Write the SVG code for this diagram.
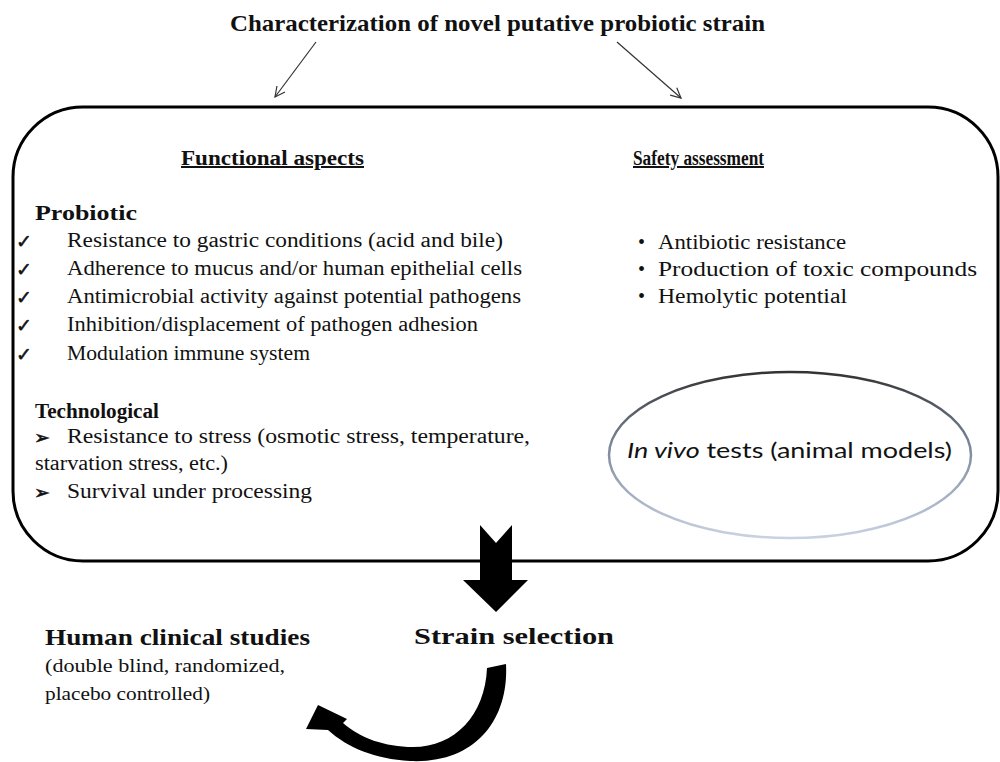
<svg xmlns="http://www.w3.org/2000/svg" width="1000" height="762" viewBox="0 0 1000 762">
<style>
.serif{font-family:"Liberation Serif","Times New Roman",Times,serif;fill:#111}
.b{font-weight:bold}
.item{font-size:20px}
.head{font-size:20px;font-weight:bold;text-decoration:underline}
.mark{font-family:"DejaVu Sans",sans-serif;font-size:19px;fill:#111;stroke:#111;stroke-width:0.5}
.thin{fill:none;stroke:#333;stroke-width:1.2}
</style>
<defs>
<marker id="open" viewBox="0 0 12 12" refX="11" refY="6" markerWidth="12" markerHeight="12" markerUnits="userSpaceOnUse" orient="auto">
<path d="M1 1 L11 6 L1 11" fill="none" stroke="#333" stroke-width="1.2"/>
</marker>
<linearGradient id="eg" x1="0" y1="0" x2="0" y2="1">
<stop offset="0" stop-color="#333"/>
<stop offset="0.45" stop-color="#7d889c"/>
<stop offset="1" stop-color="#c9d2e2"/>
</linearGradient>
</defs>
<rect width="1000" height="762" fill="#fff"/>

<g id="title">
<text class="serif b" x="230" y="31" font-size="23" textLength="535" lengthAdjust="spacingAndGlyphs">Characterization of novel putative probiotic strain</text>
</g>

<g id="connectors">
<line class="thin" x1="316" y1="42" x2="275" y2="97" marker-end="url(#open)"/>
<line class="thin" x1="617" y1="42" x2="681" y2="98" marker-end="url(#open)"/>
<path id="down-arrow" d="M480 525 L496 543 L512 525 L512 580 L528 580 L496 612 L463 580 L480 580 Z" fill="#000"/>
<path id="curved-arrow" d="M487 668 L506 664 C509 720 475 764 410 761 C375 759 348 748 328 730 L306 729 L318 705 L347 719 L343 723 C360 738 385 747 413 747 C455 747 485 715 487 668 Z" fill="#000"/>
</g>

<g id="characterization-box">
<rect x="13" y="107" width="985" height="454" rx="70" ry="70" fill="none" stroke="#000" stroke-width="3"/>
</g>

<g id="functional-aspects">
<text class="serif head" x="181" y="165" textLength="183" lengthAdjust="spacingAndGlyphs">Functional aspects</text>
<text class="serif b" x="35" y="220" font-size="20" textLength="102" lengthAdjust="spacingAndGlyphs">Probiotic</text>
<text class="mark" x="16" y="248">✓</text>
<text class="mark" x="16" y="276">✓</text>
<text class="mark" x="16" y="304">✓</text>
<text class="mark" x="16" y="332">✓</text>
<text class="mark" x="16" y="361">✓</text>
<g class="serif item">
<text x="67" y="247" textLength="436" lengthAdjust="spacingAndGlyphs">Resistance to gastric conditions (acid and bile)</text>
<text x="67" y="275" textLength="455" lengthAdjust="spacingAndGlyphs">Adherence to mucus and/or human epithelial cells</text>
<text x="67" y="303" textLength="454" lengthAdjust="spacingAndGlyphs">Antimicrobial activity against potential pathogens</text>
<text x="67" y="331" textLength="411" lengthAdjust="spacingAndGlyphs">Inhibition/displacement of pathogen adhesion</text>
<text x="67" y="360" textLength="243" lengthAdjust="spacingAndGlyphs">Modulation immune system</text>
</g>
<text class="serif b" x="35" y="418" font-size="20" textLength="124" lengthAdjust="spacingAndGlyphs">Technological</text>
<text class="mark" x="34" y="444" font-size="18">➢</text>
<text class="mark" x="34" y="499" font-size="18">➢</text>
<g class="serif item">
<text x="67" y="443" textLength="463" lengthAdjust="spacingAndGlyphs">Resistance to stress (osmotic stress, temperature,</text>
<text x="35" y="470" textLength="193" lengthAdjust="spacingAndGlyphs">starvation stress, etc.)</text>
<text x="67" y="498" textLength="245" lengthAdjust="spacingAndGlyphs">Survival under processing</text>
</g>
</g>

<g id="safety-assessment">
<text class="serif head" x="633" y="165" textLength="131" lengthAdjust="spacingAndGlyphs">Safety assessment</text>
<g class="serif item">
<text x="638" y="249">•</text>
<text x="638" y="276">•</text>
<text x="638" y="303">•</text>
<text x="658" y="249" textLength="188" lengthAdjust="spacingAndGlyphs">Antibiotic resistance</text>
<text x="658" y="276" textLength="319" lengthAdjust="spacingAndGlyphs">Production of toxic compounds</text>
<text x="658" y="303" textLength="189" lengthAdjust="spacingAndGlyphs">Hemolytic potential</text>
</g>
</g>

<g id="in-vivo">
<ellipse cx="790" cy="455" rx="181" ry="83" fill="none" stroke="url(#eg)" stroke-width="2.5"/>
<text x="627" y="458" font-family="Lato, 'Open Sans', sans-serif" font-size="21" fill="#111" textLength="325" lengthAdjust="spacingAndGlyphs"><tspan font-style="italic">In vivo</tspan> tests (animal models)</text>
</g>

<g id="strain-selection">
<text class="serif b" x="414" y="644" font-size="24" textLength="200" lengthAdjust="spacingAndGlyphs">Strain selection</text>
</g>

<g id="human-clinical">
<text class="serif b" x="45" y="645" font-size="23" textLength="265" lengthAdjust="spacingAndGlyphs">Human clinical studies</text>
<text class="serif" x="45" y="672" font-size="19" textLength="240" lengthAdjust="spacingAndGlyphs">(double blind, randomized,</text>
<text class="serif" x="45" y="700" font-size="19" textLength="165" lengthAdjust="spacingAndGlyphs">placebo controlled)</text>
</g>
</svg>
